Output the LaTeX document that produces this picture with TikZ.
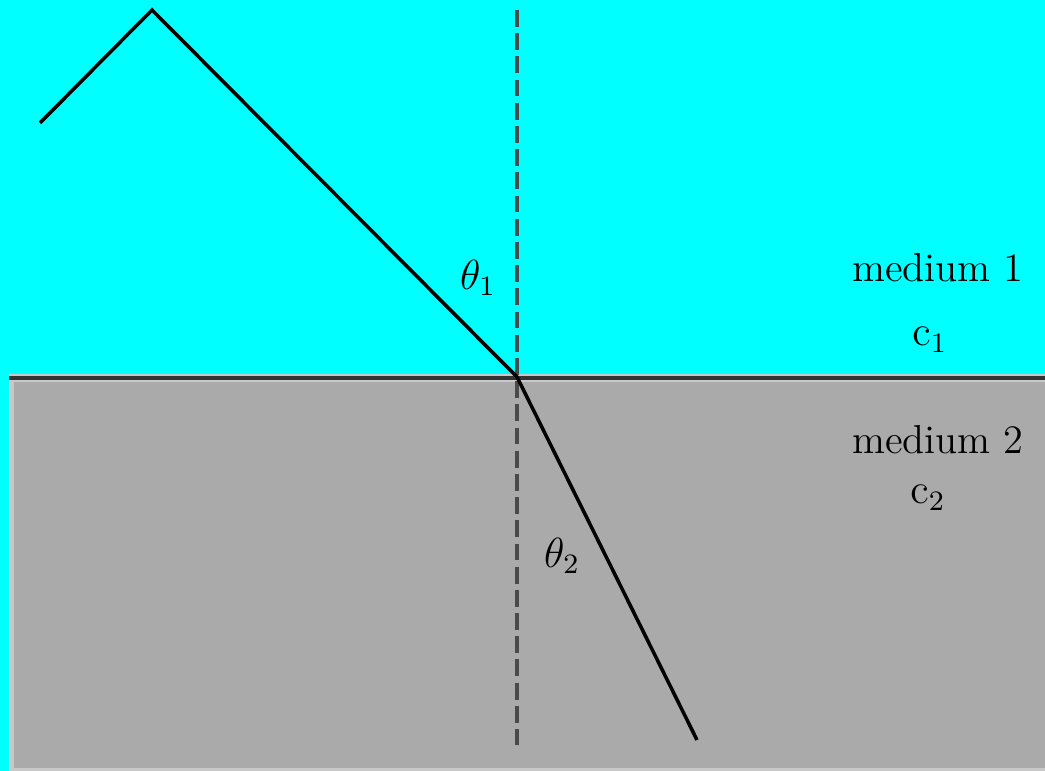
\documentclass[tikz,border=0pt]{standalone}
\usepackage{tikz}

\definecolor{mediumone}{HTML}{00FFFF}
\definecolor{mediumtwo}{HTML}{AAAAAA}
\definecolor{mediumedge}{HTML}{C8C8C8}
\definecolor{normalgray}{HTML}{4A4A4A}

\tikzset{
	ray/.style={line width=1pt, black},
	normalline/.style={line width=0.9pt, normalgray, dash pattern=on 4.8pt off 1.8pt},
	interface/.style={line width=0.9pt, black!80}
}

\begin{document}
\begin{tikzpicture}
		\tikzstyle{every node}=[font=\fontsize{11.5pt}{14pt}\selectfont, inner sep=0pt]
		\useasboundingbox (0,0) rectangle (10.45,7.71);
		
		% the two media
		\fill[mediumone] (0,0) rectangle (10.45,7.71);
		\fill[mediumedge] (0.09,0) rectangle (10.45,3.97);
		\fill[mediumtwo] (0.14,0.03) rectangle (10.45,3.89);
		
		\coordinate (ifl) at (0.09,3.93);
		\coordinate (ifr) at (10.45,3.93);
		\draw[interface] (ifl) -- (ifr);
		
		% normal
		\coordinate (ntop) at (5.17,7.61);
		\coordinate (nbot) at (5.17,0.26);
		\draw[normalline] (ntop) -- (nbot);
		
		% ray
		\coordinate (start) at (0.40,6.48);
		\coordinate (peak) at (1.52,7.61);
		\coordinate (hit) at (5.17,3.94);
		\coordinate (end) at (6.97,0.31);
		\draw[ray, line join=miter] (start) -- (peak) -- (hit) -- (end);
		
		% labels
		\node (theta1) at (4.78,4.93) {$\theta_1$};
		\node (theta2) at (5.62,2.15) {$\theta_2$};
		\node (med1) at (9.38,5.03) {medium 1};
		\node (c1) at (9.30,4.31) {$\mathrm{c}_1$};
		\node (med2) at (9.38,3.31) {medium 2};
		\node (c2) at (9.28,2.73) {$\mathrm{c}_2$};
		
	\end{tikzpicture}
\end{document}
